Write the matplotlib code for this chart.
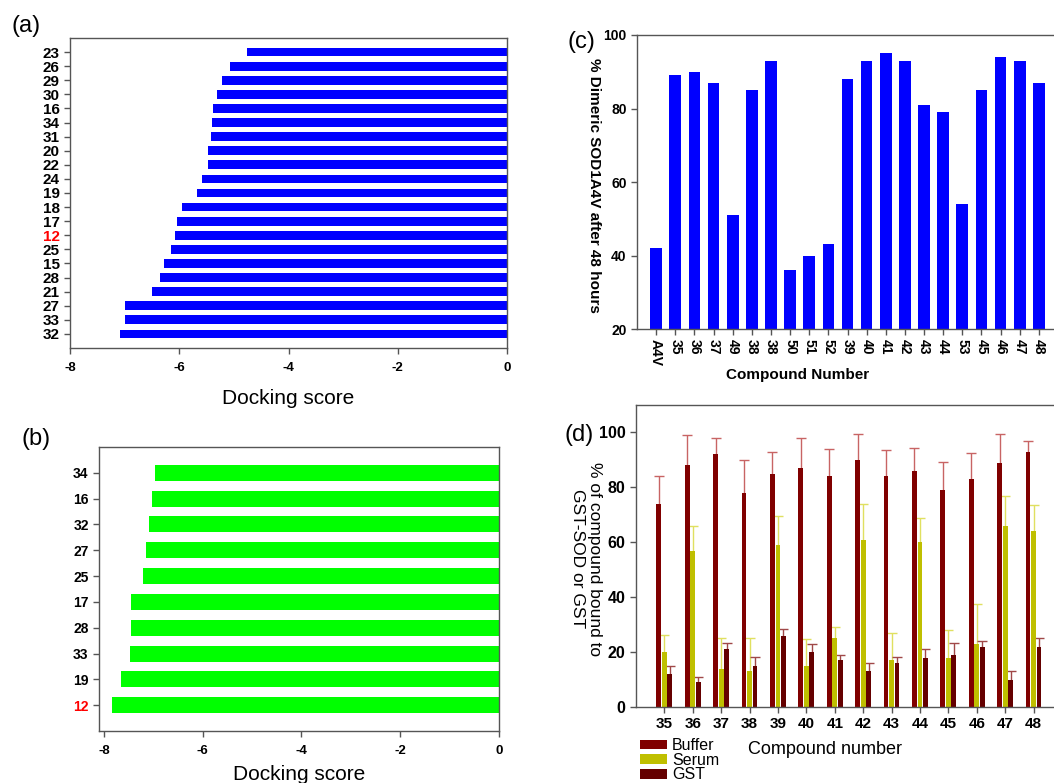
import matplotlib

matplotlib.use("Agg")
import matplotlib.pyplot as plt
import matplotlib.transforms as mtransforms
import numpy as np
from matplotlib.patches import Patch

plt.rcParams["font.family"] = ["Liberation Sans", "DejaVu Sans"]

W, H = 1054, 783

# (a) docking scores, top to bottom
a_labels = ["23", "26", "29", "30", "16", "34", "31", "20", "22", "24", "19",
            "18", "17", "12", "25", "15", "28", "21", "27", "33", "32"]
a_scores = [-4.76, -5.08, -5.22, -5.31, -5.39, -5.40, -5.42, -5.48, -5.48, -5.59, -5.67,
            -5.95, -6.04, -6.08, -6.15, -6.28, -6.35, -6.50, -6.99, -7.00, -7.08]

# (b) docking scores, top to bottom
b_labels = ["34", "16", "32", "27", "25", "17", "28", "33", "19", "12"]
b_scores = [-6.96, -7.03, -7.09, -7.14, -7.21, -7.45, -7.46, -7.47, -7.65, -7.83]

# (c) % dimeric SOD1A4V after 48 hours
c_labels = ["A4V", "35", "36", "37", "49", "38", "38", "50", "51", "52", "39",
            "40", "41", "42", "43", "44", "53", "45", "46", "47", "48"]
c_values = [42, 89, 90, 87, 51, 85, 93, 36, 40, 43, 88,
            93, 95, 93, 81, 79, 54, 85, 94, 93, 87]

# (d) % of compound bound, mean and upper error
d_compounds = ["35", "36", "37", "38", "39", "40", "41", "42", "43", "44", "45", "46", "47", "48"]
buffer_mean = [74, 88, 92, 78, 85, 87, 84, 90, 84, 86, 79, 83, 89, 93]
buffer_err = [10, 11, 6, 12, 8, 11, 10, 9.5, 9.5, 8.3, 10.3, 9.6, 10.5, 4]
serum_mean = [20, 57, 14, 13, 59, 15, 25, 61, 17, 60, 18, 23, 66, 64]
serum_err = [6.3, 9, 11.3, 12, 10.5, 9.7, 4.3, 13, 9.8, 8.8, 10, 14.5, 10.7, 9.4]
gst_mean = [12, 9, 21, 15, 26, 20, 17, 13, 16, 18, 19, 22, 10, 22]
gst_err = [3, 2, 2.2, 3.2, 2.4, 2.9, 2, 3, 2.3, 3, 4.3, 2.2, 3.1, 3]

SPINE = "#555555"


def px_axes(fig, left, top, right, bottom):
    """Add axes from pixel edges (top-left origin)."""
    return fig.add_axes([left / W, 1 - bottom / H, (right - left) / W, (bottom - top) / H])


def style_spines(ax):
    for s in ax.spines.values():
        s.set_color(SPINE)
        s.set_linewidth(1.0)
    ax.tick_params(colors=SPINE, length=4, width=1.0, labelcolor="black")


def docking_panel(ax, labels, scores, color, ysize, xsize):
    n = len(labels)
    pos = np.arange(n)
    ax.barh(pos, scores, height=0.62, color=color, edgecolor="none")
    ax.set_ylim(n, -1)
    ax.set_yticks(pos)
    ax.set_yticklabels(labels, fontsize=ysize, fontweight="bold")
    ax.set_xticks([-8, -6, -4, -2, 0])
    ax.set_xticklabels(["-8", "-6", "-4", "-2", "0"], fontsize=xsize, fontweight="bold")
    style_spines(ax)
    ax.tick_params(axis="x", pad=6)
    # compound 12 is highlighted in red
    for t in ax.get_yticklabels():
        if t.get_text() == "12":
            t.set_color("red")


def main() -> None:
    fig = plt.figure(figsize=(W / 100, H / 100), dpi=100)

    # (a)
    ax_a = px_axes(fig, 70, 38, 507, 348)
    docking_panel(ax_a, a_labels, a_scores, "#0000ff", 11, 9.5)
    ax_a.set_xlim(-8, 0)
    ax_a.set_xlabel("Docking score", fontsize=15)
    ax_a.xaxis.set_label_coords(0.5, -(398 - 348) / 310)
    ax_a.xaxis.label.set_va("center")
    fig.text(26 / W, 1 - 26 / H, "(a)", fontsize=17, ha="center", va="center")

    # (b)
    ax_b = px_axes(fig, 99, 447, 499, 731)
    docking_panel(ax_b, b_labels, b_scores, "#00ff00", 10, 9.5)
    ax_b.set_xlim(-8.1, 0)
    ax_b.set_xlabel("Docking score", fontsize=15)
    ax_b.xaxis.set_label_coords(0.5, -(774 - 731) / 284)
    ax_b.xaxis.label.set_va("center")
    fig.text(36 / W, 1 - 439 / H, "(b)", fontsize=17, ha="center", va="center")

    # (c)
    ax_c = px_axes(fig, 637, 35, 1058, 329)
    xc = np.arange(len(c_labels))
    ax_c.bar(xc, c_values, width=0.61, color="#0000ff", edgecolor="none")
    ax_c.set_xlim(-1, len(c_labels))
    ax_c.set_ylim(20, 100)
    ax_c.set_yticks([20, 40, 60, 80, 100])
    ax_c.set_yticklabels(["20", "40", "60", "80", "100"], fontsize=10, fontweight="bold")
    ax_c.set_xticks(xc)
    ax_c.set_xticklabels(c_labels, rotation=-90, fontsize=10, fontweight="bold")
    style_spines(ax_c)
    ax_c.set_ylabel("% Dimeric SOD1A4V after 48 hours", rotation=-90,
                    fontsize=11, fontweight="bold", va="center")
    ax_c.yaxis.set_label_coords(-(637 - 594) / 421, 0.49)
    ax_c.set_xlabel("Compound Number", fontsize=11, fontweight="bold", va="center")
    ax_c.xaxis.set_label_coords((798 - 637) / 421, -(375 - 329) / 294)
    fig.text(581 / W, 1 - 42 / H, "(c)", fontsize=17, ha="center", va="center")

    # (d)
    ax_d = px_axes(fig, 636, 405, 1062, 707)
    xd = np.arange(len(d_compounds))
    bw = 0.17
    series = [
        (buffer_mean, buffer_err, -0.2, "#800000", "#c86464", "Buffer"),
        (serum_mean, serum_err, 0.0, "#bfbf00", "#e0e060", "Serum"),
        (gst_mean, gst_err, 0.19, "#650000", "#a04848", "GST"),
    ]
    handles = []
    for mean, err, off, col, ecol, name in series:
        ax_d.bar(xd + off, mean, width=bw, color=col, edgecolor="none", zorder=2)
        _, caps, _ = ax_d.errorbar(xd + off, mean, yerr=[np.zeros(len(mean)), err],
                                   fmt="none", ecolor=ecol, elinewidth=1.0,
                                   capsize=3.5, capthick=1.0, zorder=1)
        caps[0].set_visible(False)
        handles.append(Patch(facecolor=col, edgecolor="none", label=name))
    ax_d.set_xlim(-1, len(d_compounds))
    ax_d.set_ylim(0, 110)
    ax_d.set_yticks([0, 20, 40, 60, 80, 100])
    ax_d.set_yticklabels(["0", "20", "40", "60", "80", "100"], fontsize=11.5, fontweight="bold")
    ax_d.set_xticks(xd)
    ax_d.set_xticklabels(d_compounds, fontsize=11, fontweight="bold")
    shift = mtransforms.ScaledTranslation(5 / 100, -9 / 100, fig.dpi_scale_trans)
    for t in ax_d.get_xticklabels():
        t.set_transform(t.get_transform() + shift)
    style_spines(ax_d)
    ax_d.set_ylabel("% of compound bound to\nGST-SOD or GST", rotation=-90,
                    fontsize=12.5, va="center", linespacing=1.15)
    ax_d.yaxis.set_label_coords(-(636 - 586) / 426, 0.49)
    ax_d.set_xlabel("Compound number", fontsize=13, va="center")
    ax_d.xaxis.set_label_coords((825 - 636) / 426, -(749 - 707) / 302)
    fig.legend(handles=handles, loc="upper left", bbox_to_anchor=(640 / W, 1 - 738 / H),
               frameon=False, fontsize=11.5, handlelength=1.7, handleheight=0.55,
               handletextpad=0.3, labelspacing=-0.02, borderpad=0, borderaxespad=0)
    fig.text(579 / W, 1 - 435 / H, "(d)", fontsize=17, ha="center", va="center")

    fig.savefig("out.png", dpi=100)
    plt.close(fig)


if __name__ == "__main__":
    main()
